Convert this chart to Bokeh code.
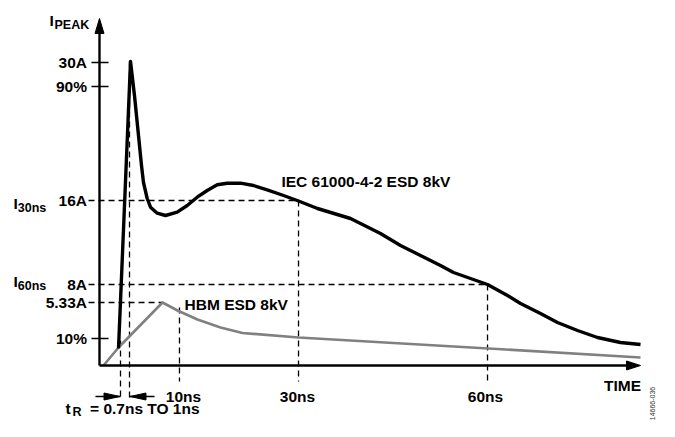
import math
from bokeh.plotting import figure
from bokeh.models import Range1d
from bokeh.core.properties import value
from bokeh.embed import file_html
from bokeh.resources import INLINE

# ---- data (schematic units: x = time-like units, y = current-like units) ----
iec_t = [3.17, 5.17, 5.83, 6.5, 7.0, 7.33, 7.95, 8.5, 9.62, 11.0, 12.95, 14.62, 16.28, 17.95,
         19.62, 21.28, 23.5, 25.67, 27.95, 30.67, 33.17, 36.33, 41.83, 46.83, 50.17, 53.5,
         56.83, 59.0, 64.67, 68.0, 70.17, 73.5, 76.33, 79.67, 83.0, 86.83, 90.17]
iec_i = [1.7, 30.4, 27.0, 23.0, 20.0, 18.3, 16.7, 15.83, 15.23, 15.0, 15.33, 16.0, 16.83, 17.5,
         18.07, 18.23, 18.23, 18.0, 17.57, 17.0, 16.45, 15.7, 14.7, 13.2, 12.0, 11.0,
         10.0, 9.3, 8.1, 7.0, 6.2, 5.2, 4.3, 3.5, 2.8, 2.3, 2.1]

hbm_t = [0.67, 3.17, 10.5, 13.0, 16.33, 20.17, 23.83, 33.17, 64.83, 90.17]
hbm_i = [0.0, 1.8, 6.3, 5.5, 4.6, 3.8, 3.25, 2.8, 1.7, 0.8]

ytick_pos = [30.3, 27.9, 16.5, 8.1, 6.3, 2.7]
ytick_labels = ["30A", "90%", "16A", "8A", "5.33A", "10%"]
ytick_solid = [True, True, False, False, False, True]

xtick_pos = [13.33, 33.17, 64.67]
xtick_top = [5.8, 16.5, 8.1]
xtick_labels = ["10ns", "30ns", "60ns"]
xtick_label_pos = [14.0, 33.0, 64.33]

hline_end = [33.17, 64.67, 10.5]      # 16A, 8A, 5.33A guide ends
hline_y = [16.5, 8.1, 6.3]

rise_t = [3.5, 5.0]                   # 10% / 90% markers (tR = 0.7ns to 1ns)
rise_top = [2.5, 30.4]

x_axis_end = 90.17
y_axis_end = 34.7

# ---- canvas / scale ----
W, H = 659, 421
PXX, PXY = 6.0, 10.0   # pixels per unit
x0 = -99 / PXX
y1 = 365 / PXY
p = figure(width=W, height=H, x_range=Range1d(x0, x0 + W / PXX),
           y_range=Range1d(y1 - H / PXY, y1),
           output_backend="svg", toolbar_location=None,
           x_axis_type=None, y_axis_type=None, min_border=0)
p.grid.visible = False
p.outline_line_color = None
p.background_fill_color = "white"

FONT = value("Liberation Sans")
DASH = "6 4"

ay = -3.1        # rise-time arrow row
rise_bottom = -3.5

# dashed guide lines
xs, ys = [], []
for y, xe in zip(hline_y, hline_end):
    xs.append([-1.83, xe]); ys.append([y, y])
for x, yt in zip(xtick_pos, xtick_top):
    xs.append([x, x]); ys.append([yt, -1.6])
for x, yt in zip(rise_t, rise_top):
    xs.append([x, x]); ys.append([yt, rise_bottom])
p.multi_line(xs, ys, line_color="black", line_width=1.3, line_dash=DASH)

# curves
p.line(hbm_t, hbm_i, line_color="#808080", line_width=2.6, line_join="round")
p.line(iec_t, iec_i, line_color="black", line_width=3.4, line_join="round")

# axes
p.line([0, 0], [0, y_axis_end - 1.0], line_color="black", line_width=2.4)
p.line([0, x_axis_end - 1.5], [0, 0], line_color="black", line_width=2.4)

# solid y ticks
for y, s in zip(ytick_pos, ytick_solid):
    if s:
        p.line([-1.33, 1.5], [y, y], line_color="black", line_width=1.5)


def head(tx, ty, direction, length_px, half_px):
    if direction == "up":
        return [tx, tx - half_px / PXX, tx + half_px / PXX], [ty, ty - length_px / PXY, ty - length_px / PXY]
    if direction == "right":
        return [tx, tx - length_px / PXX, tx - length_px / PXX], [ty, ty + half_px / PXY, ty - half_px / PXY]
    return [tx, tx + length_px / PXX, tx + length_px / PXX], [ty, ty + half_px / PXY, ty - half_px / PXY]


hx, hy = [], []
for h in [head(0, y_axis_end, "up", 15, 4.5),
          head(x_axis_end, 0, "right", 14, 4.5),
          head(rise_t[0] - 0.08, ay, "right", 16, 3.5),
          head(rise_t[1] + 0.08, ay, "left", 16, 3.5)]:
    hx.append(h[0]); hy.append(h[1])
p.patches(hx, hy, fill_color="black", line_color="black", line_width=1)
p.line([-0.67, rise_t[0]], [ay, ay], line_color="black", line_width=1.5)
p.line([rise_t[1], 9.17], [ay, ay], line_color="black", line_width=1.5)

BIG = "15.5px"
SMALL = "12.5px"
common = dict(text_font=FONT, text_font_style="bold", text_color="black")

# y tick labels
p.text(x=[-2.08] * len(ytick_pos), y=ytick_pos, text=ytick_labels,
       text_align="right", text_baseline="middle", text_font_size=BIG, **common)
# x tick labels
p.text(x=xtick_label_pos, y=[-3.1] * 3, text=xtick_labels,
       text_align="center", text_baseline="middle", text_font_size=BIG, **common)

# I with subscripts
p.text(x=[-8.33, -14.33, -14.33], y=[34.5, 16.25, 8.45], text=["I", "I", "I"],
       text_align="left", text_baseline="middle", text_font_size=BIG, **common)
p.text(x=[-7.5, -13.62, -13.62], y=[34.1, 15.75, 7.95], text=["PEAK", "30ns", "60ns"],
       text_align="left", text_baseline="middle", text_font_size=SMALL, **common)

# curve labels
p.text(x=[30.33, 14.17], y=[18.4, 6.15], text=["IEC 61000-4-2 ESD 8kV", "HBM ESD 8kV"],
       text_align="left", text_baseline="middle", text_font_size=BIG, **common)

# TIME
p.text(x=[87.17], y=[-2.0], text=["TIME"], text_align="center", text_baseline="middle",
       text_font_size=BIG, **common)

# rise time note
p.text(x=[-5.67, -1.58], y=[-4.3, -4.3], text=["t", "= 0.7ns TO 1ns"],
       text_align="left", text_baseline="middle", text_font_size=BIG, **common)
p.text(x=[-4.5], y=[-4.65], text=["R"], text_align="left", text_baseline="middle",
       text_font_size=SMALL, **common)

# figure id
p.text(x=[92.17], y=[-3.8], text=["14666-036"], angle=math.pi / 2, text_align="center",
       text_baseline="middle", text_font_size="7px", text_font=FONT, text_color="#333333")

open("out.html", "w").write(file_html(p, INLINE))
